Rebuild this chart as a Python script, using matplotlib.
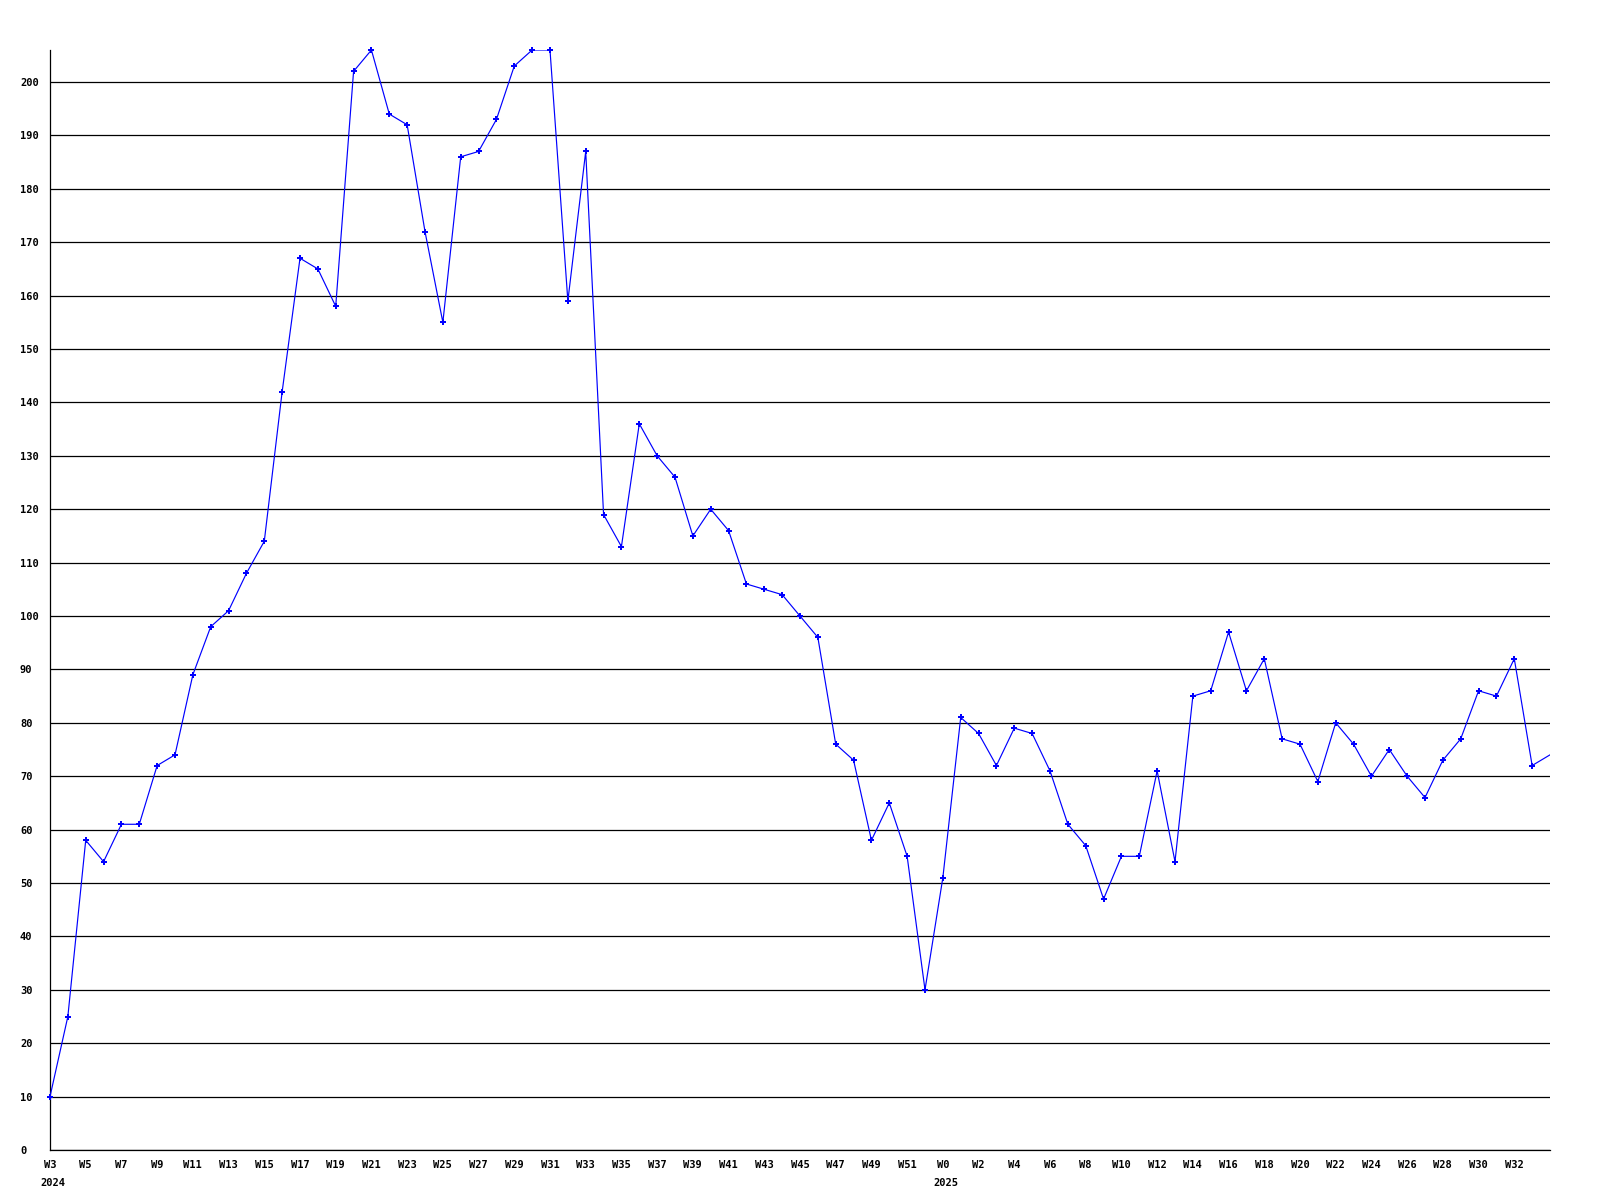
import matplotlib
matplotlib.use('Agg')
import matplotlib.pyplot as plt

# weekly counts, W3 2024 .. W52 2024
weeks_2024 = list(range(3, 53))
values_2024 = [10, 25, 58, 54, 61, 61, 72, 74, 89, 98,
               101, 108, 114, 142, 167, 165, 158, 202, 206, 194,
               192, 172, 155, 186, 187, 193, 203, 206, 206, 159,
               187, 119, 113, 136, 130, 126, 115, 120, 116, 106,
               105, 104, 100, 96, 76, 73, 58, 65, 55, 30]

# W0 2025 .. W34 2025 (last one runs off the right edge)
weeks_2025 = list(range(0, 35))
values_2025 = [51, 81, 78, 72, 79, 78, 71, 61, 57, 47,
               55, 55, 71, 54, 85, 86, 97, 86, 92, 77,
               76, 69, 80, 76, 70, 75, 70, 66, 73, 77,
               86, 85, 92, 72, 74]

week_labels = [f'W{w}' for w in weeks_2024] + [f'W{w}' for w in weeks_2025]
values = values_2024 + values_2025
x = list(range(len(values)))

y_ticks = list(range(0, 201, 10))

FONT = dict(family='DejaVu Sans Mono', weight='bold', size=7.5)

fig = plt.figure(figsize=(16, 12), dpi=100)
fig.patch.set_facecolor('white')
ax = fig.add_axes([50 / 1600, 50 / 1200, 1500 / 1600, 1100 / 1200])

# line clipped at the right edge, markers for all but the last week
ax.plot(x, values, color='#0000FF', lw=0.85, zorder=3)
ax.plot(x[:-1], values[:-1], ls='none', color='#0000FF', marker='P',
        markersize=4, markeredgewidth=0, clip_on=False, zorder=4)

ax.set_xlim(0, len(values) - 1)
ax.set_ylim(0, 206)

ax.set_yticks(y_ticks)
ax.set_yticklabels([str(v) for v in y_ticks], fontdict=FONT, ha='left')
ax.tick_params(axis='y', length=0, pad=21.6)
ax.grid(axis='y', color='black', lw=0.9, zorder=1)

ax.set_xticks(x[:-1:2])
ax.set_xticklabels(week_labels[:-1:2], fontdict=FONT)
ax.tick_params(axis='x', length=0, pad=7)

for s in ['top', 'right']:
    ax.spines[s].set_visible(False)
for s in ['left', 'bottom']:
    ax.spines[s].set_color('black')
    ax.spines[s].set_linewidth(0.9)

# year labels under the first week of each year
for idx, year in [(0, '2024'), (len(weeks_2024), '2025')]:
    ax.annotate(year, xy=(idx, 0), xycoords=('data', 'axes fraction'),
                xytext=(-7, -20), textcoords='offset points',
                ha='left', va='top', **FONT)

fig.savefig('out.png', dpi=100, facecolor='white')
